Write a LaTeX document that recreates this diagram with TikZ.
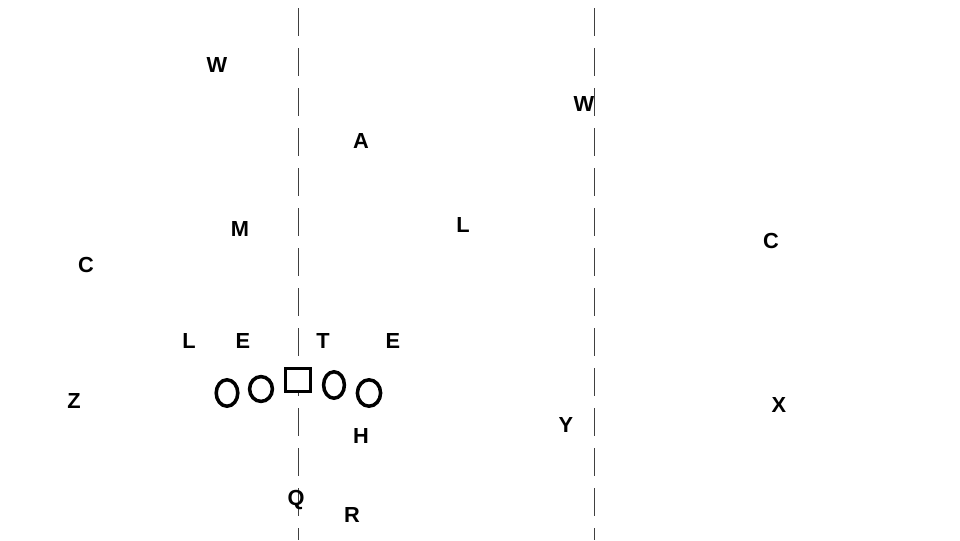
\documentclass[tikz,border=0pt]{standalone}
\usepackage{fontspec}
\setmainfont{Liberation Sans}
\usepackage{tikz}
\usetikzlibrary{shapes.geometric, positioning}

\begin{document}
\begin{tikzpicture}[
  x=0.025cm, y=-0.025cm,
  player/.style={inner sep=0pt, text depth=0pt, font=\fontsize{15.5}{18}\selectfont\bfseries},
  lineman/.style={ellipse, draw=black, line width=2.5pt, minimum width=0.54cm,
                  minimum height=0.66cm, inner sep=0pt},
  snapper/.style={rectangle, draw=black, fill=white, line width=2.5pt,
                 minimum width=0.62cm, minimum height=0.58cm, inner sep=0pt},
  hash/.style={line width=0.55pt, black!75, dash pattern=on 0.7cm off 0.3cm}
]
\useasboundingbox (0,0) rectangle (960,540);

% hash marks
\coordinate (hashLtop) at (298,8);
\coordinate (hashLbot) at (298,540);
\coordinate (hashRtop) at (594,8);
\coordinate (hashRbot) at (594,540);
\draw[hash] (hashLtop) -- (hashLbot);
\draw[hash] (hashRtop) -- (hashRbot);

% offense line
\node[lineman] (olLT) at (227,393) {};
\node[lineman, minimum width=0.57cm, minimum height=0.62cm] (olLG) at (261,389) {};
\node[snapper] (olC)  at (298,380) {};
\node[lineman, minimum width=0.52cm] (olRG) at (334,385) {};
\node[lineman, minimum width=0.58cm] (olRT) at (369,393) {};

% defense
\node[player] (defWl) at (217,65)  {W};
\node[player] (defWr) at (584,104) {W};
\node[player] (defA)  at (361,141) {A};
\node[player] (defM)  at (240,229) {M};
\node[player] (defL)  at (463,225) {L};
\node[player] (defCl) at (86,265)  {C};
\node[player] (defCr) at (771,241) {C};
\foreach \name/\x/\lbl in {dlL/189/L, dlE/243/E, dlT/323/T, dlEr/393/E} {
  \node[player] (\name) at (\x,341) {\lbl};
}

% offense skill
\node[player] (offZ) at (74,401)  {Z};
\node[player] (offX) at (779,405) {X};
\node[player] (offY) at (566,425) {Y};
\node[player] (offH) at (361,436) {H};
\node[player] (offQ) at (296,498) {Q};
\node[player] (offR) at (352,515) {R};
\end{tikzpicture}
\end{document}
